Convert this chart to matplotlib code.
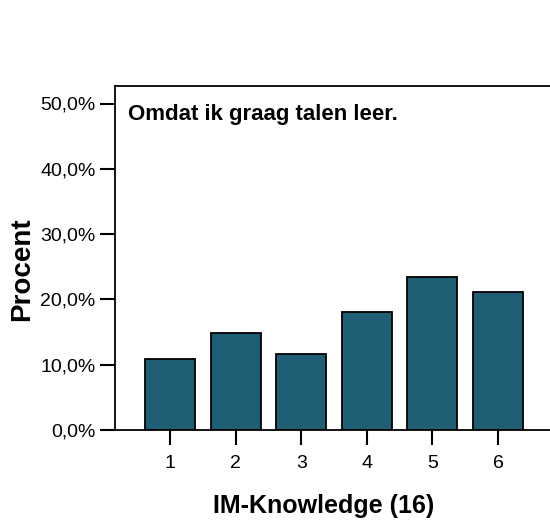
import matplotlib
matplotlib.use("Agg")
import matplotlib.pyplot as plt
from matplotlib.ticker import FuncFormatter

categories = [1, 2, 3, 4, 5, 6]
percent = [10.9, 14.9, 11.7, 18.0, 23.5, 21.1]
y_ticks = [0, 10, 20, 30, 40, 50]

BAR_COLOR = "#1e5f76"

plt.rcParams["font.family"] = ["Liberation Sans", "DejaVu Sans"]

W, H = 550, 520
fig = plt.figure(figsize=(W / 100, H / 100), dpi=100)
ax = fig.add_axes([115 / W, 1 - 430 / H, 1 - 115 / W, (430 - 86) / H])

ax.bar(categories, percent, width=0.76, color=BAR_COLOR, edgecolor="black", linewidth=1.3)

ax.set_xlim(1 - 55 / 65.6, 1 + 380 / 65.6)
ax.set_ylim(0, 344 / 65.3 * 10)
ax.set_xticks(categories)
ax.set_yticks(y_ticks)
ax.yaxis.set_major_formatter(FuncFormatter(lambda v, _: f"{v:.1f}%".replace(".", ",")))

for side in ("left", "bottom", "top"):
    ax.spines[side].set_linewidth(1.3)
ax.spines["right"].set_visible(False)
ax.tick_params(axis="both", length=11, width=1.5, labelsize=14, colors="black")
ax.tick_params(axis="y", pad=3)
ax.tick_params(axis="x", pad=7)

# caption inside the plot area, top left
fig.text(128 / W, 1 - 120 / H, "Omdat ik graag talen leer.",
         ha="left", va="baseline", fontsize=16, fontweight="bold")
fig.text(22 / W, 1 - 269 / H, "Procent", rotation=90, ha="center", va="center",
         fontsize=20, fontweight="bold")
fig.text(324 / W, 1 - 513 / H, "IM-Knowledge (16)", ha="center", va="baseline",
         fontsize=18, fontweight="bold")

fig.savefig("out.png", dpi=100, facecolor="white")
